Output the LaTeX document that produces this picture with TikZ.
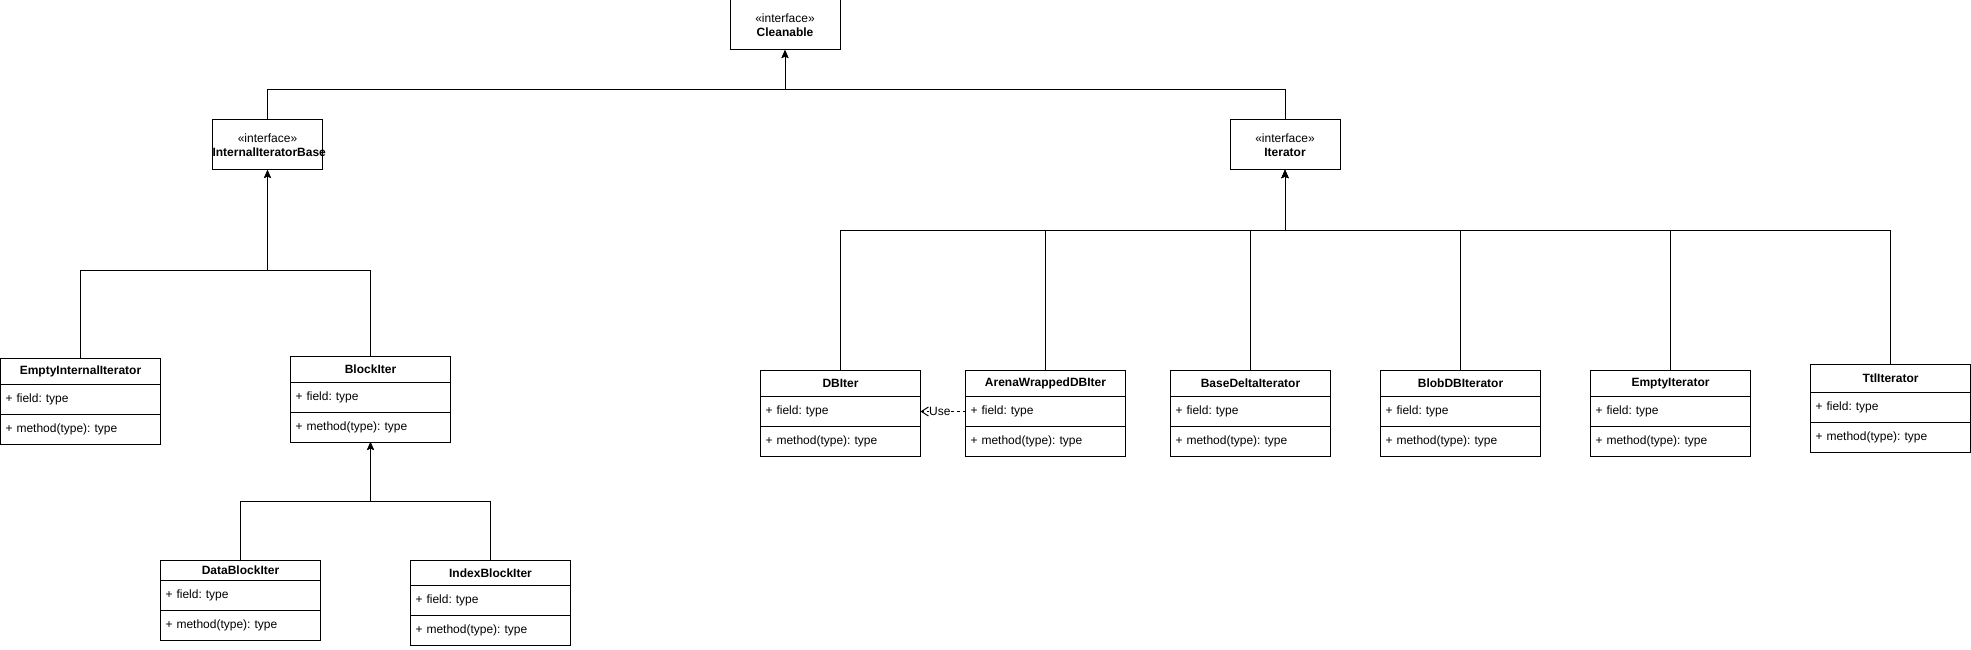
\documentclass[tikz,border=0pt]{standalone}
\usepackage{fontspec}
\setmainfont{Liberation Sans}
\usepackage{tikz}
\usetikzlibrary{arrows.meta,positioning}
\frenchspacing

% class box: [header height]{name}{left}{top}{title}
\newcommand{\classbox}[5][26]{%
\node (#2) [classhead, minimum height=#1pt] at (#3,#4) {#5};
\node (#2f) [classrow, below=0pt of #2] {+ field: type};
\node (#2m) [classrow, below=0pt of #2f] {+ method(type): type};
}

\begin{document}
\begin{tikzpicture}[x=1pt, y=-1pt, line width=1pt, font=\fontsize{12pt}{14pt}\selectfont,
  iface/.style={draw, minimum height=50pt, text width=110pt, align=center, inner sep=0pt, outer sep=0pt},
  classhead/.style={draw, anchor=north west, minimum width=160pt, inner sep=0pt, outer sep=0pt, font=\fontsize{12pt}{14pt}\selectfont\bfseries},
  classrow/.style={draw, minimum height=30pt, text width=150pt, inner xsep=5pt, inner ysep=0pt, outer sep=0pt, align=left},
  >={Stealth[length=8pt,width=7pt,inset=1.5pt]}]
\useasboundingbox (0,0) rectangle (1971,650);

\node (clean) [iface] at (785,25) {«interface»\\\textbf{Cleanable}};
\node (iib) [iface] at (267.5,145) {«interface»\\\textbf{InternalIteratorBase}};
\node (iter) [iface] at (1285,145) {«interface»\\\textbf{Iterator}};

\classbox{eii}{0.5}{358}{EmptyInternalIterator}
\classbox{block}{290.5}{356}{BlockIter}
\classbox[20]{data}{160.5}{560.5}{DataBlockIter}
\classbox[25]{index}{410.5}{560.5}{IndexBlockIter}

\classbox{dbiter}{760.5}{370.5}{DBIter}
\classbox{arena}{965.5}{370.5}{ArenaWrappedDBIter}
\classbox{delta}{1170.5}{370.5}{BaseDeltaIterator}
\classbox{blob}{1380.5}{370.5}{BlobDBIterator}
\classbox{empty}{1590.5}{370.5}{EmptyIterator}
\classbox[28]{ttl}{1810.5}{364}{TtlIterator}

% buses
\coordinate (topbus) at (785,90);
\coordinate (leftbus) at (267.5,270);
\coordinate (blockbus) at (370.5,501);
\coordinate (rightbus) at (1285,230);

\draw [->] (iib.north) |- (topbus) -- (clean.south);
\draw [->] (iter.north) |- (topbus) -- (clean.south);

\draw [->] (eii.north) |- (leftbus) -- (iib.south);
\draw [->] (block.north) |- (leftbus) -- (iib.south);

\draw [->] (data.north) |- (blockbus) -- (blockm.south);
\draw [->] (index.north) |- (blockbus) -- (blockm.south);

\draw [->] (dbiter.north) |- (rightbus) -- (iter.south);
\draw [->] (arena.north) |- (rightbus) -- (iter.south);
\draw [->] (delta.north) |- (rightbus) -- (iter.south);
\draw [->] (blob.north) |- (rightbus) -- (iter.south);
\draw [->] (empty.north) |- (rightbus) -- (iter.south);
\draw [->] (ttl.north) |- (rightbus) -- (iter.south);

\draw [-{Straight Barb[length=7pt,width=9pt]}, dash pattern=on 3pt off 3pt] (arenaf.west) -- (dbiterf.east)
  node[pos=0.57, fill=white, inner sep=0.5pt] (use) {Use};
\end{tikzpicture}
\end{document}
